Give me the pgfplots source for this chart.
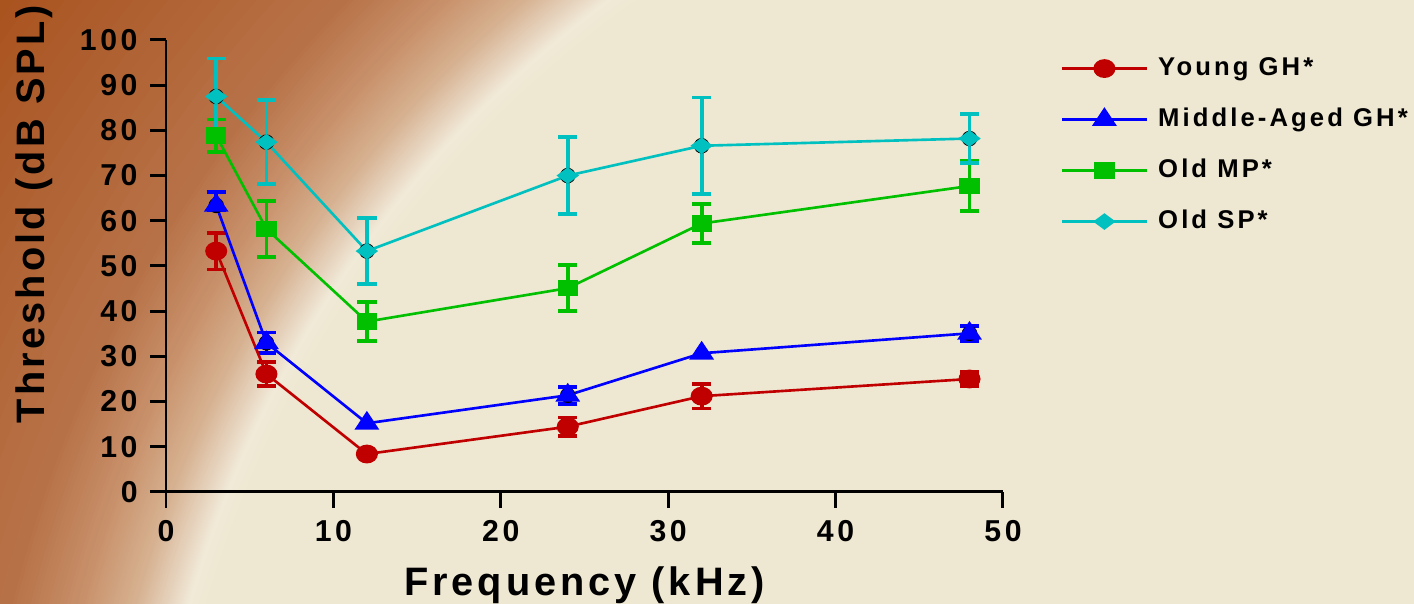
\documentclass[border=0pt]{standalone}
\usepackage{pgfplots}
\pgfplotsset{compat=1.18}
\usepackage{pgfplotstable}
\usepackage{fontspec}
\setmainfont{Liberation Sans}
\newfontfamily\spfont[LetterSpace=12]{Liberation Sans}
\newfontfamily\lblfont[LetterSpace=8]{Liberation Sans}
\newfontfamily\xlblfont[LetterSpace=10]{Liberation Sans}

\definecolor{cRed}{HTML}{C00000}
\definecolor{cBlue}{HTML}{0000FF}
\definecolor{cGreen}{HTML}{00C000}
\definecolor{cCyan}{HTML}{00C0C0}
% background (brown corner fading into cream)
\definecolor{bgA}{HTML}{A9531F}
\definecolor{bgB}{HTML}{B87349}
\definecolor{bgC}{HTML}{C9936D}
\definecolor{bgD}{HTML}{D7B393}
\definecolor{bgE}{HTML}{E6D3BD}
\definecolor{bgF}{HTML}{F1EAD8}
\definecolor{bgG}{HTML}{EEE7D1}

% x = frequency (kHz), y = threshold, ep/em = error up/down
\pgfplotstableread{
x  y     ep   em
3  53.3  4.05 4.05
6  26.1  2.65 2.65
12 8.4   0    0
24 14.45 2.05 2.05
32 21.2  2.7  2.7
48 25.0  1.5  1.5
}\young
\pgfplotstableread{
x  y     ep   em
3  63.4  2.9  1.0
6  33.0  2.3  2.3
12 15.2  0    0
24 21.4  1.9  1.9
32 30.7  0    0
48 35.1  1.7  1.7
}\middle
\pgfplotstableread{
x  y     ep   em
3  78.8  3.6  3.6
6  58.2  6.2  6.2
12 37.7  4.35 4.35
24 45.1  5.1  5.1
32 59.4  4.3  4.3
48 67.7  5.5  5.5
}\oldmp
\pgfplotstableread{
x  y     ep   em
3  87.5  8.4  8.4
6  77.4  9.3  9.3
12 53.3  7.3  7.3
24 70.0  8.5  8.5
32 76.6  10.7 10.7
48 78.2  5.4  5.4
}\oldsp

\pgfplotsset{
  errs/.style={forget plot, only marks, mark=none,
    error bars/y dir=both, error bars/y explicit,
    error bars/error bar style={#1, line width=1.05pt},
    error bars/error mark options={#1, rotate=90, mark size=2.75pt, line width=1.05pt}},
}

\begin{document}
\begin{tikzpicture}
\useasboundingbox (0,0) rectangle (14.14,6.04);
\begin{scope}
  \clip (0,0) rectangle (14.14,6.04);
  \fill[bgA] (0,0) rectangle (14.14,6.04);
  \foreach \ra/\rb/\ca/\cb in {15.8/13.1/bgA/bgB, 13.1/12.4/bgB/bgC,
      12.4/11.9/bgC/bgD, 11.9/11.6/bgD/bgE, 11.6/11.4/bgE/bgF, 11.4/11.2/bgF/bgG}{
    \foreach \k in {0,...,20}{
      \pgfmathsetmacro\r{\ra+(\rb-\ra)*\k/20}
      \pgfmathtruncatemacro\p{5*\k}
      \fill[\cb!\p!\ca] (12.85,-3.13) circle[radius=\r];
    }
  }
\end{scope}

\begin{axis}[
  at={(1.66cm,1.12cm)}, anchor=south west,
  scale only axis, width=8.37cm, height=4.52cm,
  xmin=0, xmax=50, ymin=0, ymax=100,
  enlargelimits=false,
  axis lines=left,
  axis line style={-, black, line width=0.85pt},
  tick align=outside,
  major tick length=0.16cm,
  tick style={black, line width=0.85pt},
  xtick={0,10,...,50},
  ytick={0,10,...,100},
  /pgf/number format/assume math mode=true,
  ticklabel style={font=\spfont\bfseries\fontsize{8.6}{10}\selectfont},
  xlabel={Frequency (kHz)},
  ylabel={Threshold (dB SPL)},
  xlabel style={font=\xlblfont\bfseries\fontsize{11.3}{13}\selectfont,
    at={(axis description cs:0.5,-0.23)}, anchor=base},
  ylabel style={font=\lblfont\bfseries\fontsize{11.3}{13}\selectfont,
    at={(axis description cs:-0.145,0.615)}, anchor=base, rotate=0},
  legend style={draw=none, fill=none, at={(1.068,0.966)}, anchor=north west,
    font=\spfont\bfseries\fontsize{7.3}{9}\selectfont,
    inner sep=0pt, row sep=0.26cm,
    nodes={inner sep=0pt, text height=0.19cm, text depth=0.06cm},
    /tikz/every odd column/.append style={column sep=0.1cm}},
  legend cell align=left,
  legend image code/.code={\draw[mark repeat=2,mark phase=2,#1]
    plot coordinates {(0cm,0cm) (0.425cm,0cm) (0.85cm,0cm)};},
]
% error bars first, then lines and markers on top
\addplot[errs=cRed, skip coords between index={2}{3}] table[x=x, y=y, y error plus=ep, y error minus=em] {\young};
\addplot[errs=cBlue, skip coords between index={2}{3}, skip coords between index={4}{5}] table[x=x, y=y, y error plus=ep, y error minus=em] {\middle};
\addplot[errs=cGreen] table[x=x, y=y, y error plus=ep, y error minus=em] {\oldmp};
\addplot[errs=cCyan] table[x=x, y=y, y error plus=ep, y error minus=em] {\oldsp};

\addplot[cRed, line width=0.75pt, mark=*, mark size=2.3pt, mark options={solid, xscale=1.2}] table[x=x, y=y] {\young};
\addlegendentry{Young GH*}
\addplot[cBlue, line width=0.75pt, mark=triangle*, mark size=2.85pt, mark options={solid, xscale=1.15}] table[x=x, y=y] {\middle};
\addlegendentry{Middle-Aged GH*}
\addplot[cGreen, line width=0.75pt, mark=square*, mark size=2.0pt, mark options={solid, xscale=1.25}] table[x=x, y=y] {\oldmp};
\addlegendentry{Old MP*}
\addplot[cCyan, line width=0.75pt, mark=diamond*, mark size=1.9pt, mark options={solid, xscale=1.8}] table[x=x, y=y] {\oldsp};
\addlegendentry{Old SP*}
\end{axis}
\end{tikzpicture}
\end{document}
